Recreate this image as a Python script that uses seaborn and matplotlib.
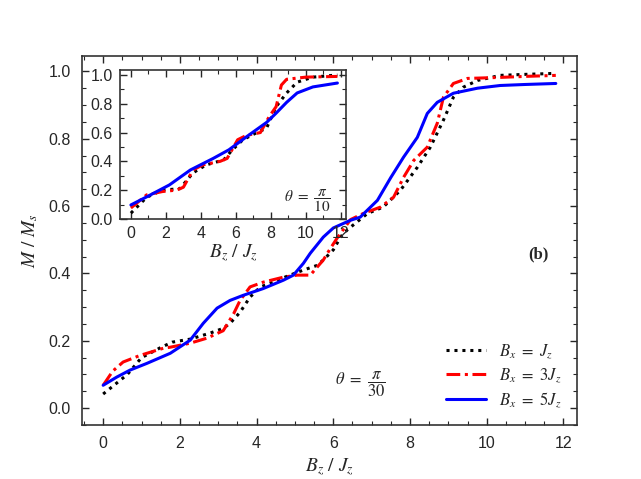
import matplotlib
matplotlib.use("Agg")
import matplotlib.pyplot as plt
import numpy as np
import pandas as pd
import seaborn as sns

# main panel, theta = pi/30
bz_j1 = [0.0, 0.63, 1.0, 1.5, 1.8, 2.27, 2.79, 3.13, 3.31, 3.57, 3.83, 4.1, 4.43, 4.8, 5.22, 5.58,
         5.74, 6.0, 6.2, 6.37, 6.89, 7.3, 7.75, 8.19, 8.53, 8.87, 9.13, 9.39, 9.76, 10.35, 11.0, 11.8]
m_j1 = [0.042, 0.10, 0.15, 0.18, 0.196, 0.205, 0.223, 0.237, 0.252, 0.285, 0.33, 0.36, 0.374,
        0.392, 0.41, 0.424, 0.44, 0.47, 0.51, 0.53, 0.578, 0.597, 0.647, 0.715, 0.775, 0.855,
        0.923, 0.953, 0.973, 0.988, 0.991, 0.994]

bz_j3 = [0.0, 0.25, 0.52, 0.97, 1.57, 1.75, 2.27, 2.71, 3.13, 3.4, 3.57, 3.83, 4.17, 4.7, 5.06,
         5.4, 5.74, 5.9, 6.1, 6.45, 6.78, 7.23, 7.57, 7.83, 8.1, 8.45, 8.71, 8.87, 9.13, 9.5,
         10.35, 11.0, 11.8]
m_j3 = [0.068, 0.11, 0.137, 0.157, 0.178, 0.181, 0.193, 0.208, 0.23, 0.28, 0.32, 0.36, 0.374,
        0.389, 0.395, 0.395, 0.44, 0.47, 0.505, 0.56, 0.578, 0.597, 0.626, 0.685, 0.736, 0.775,
        0.846, 0.923, 0.964, 0.979, 0.982, 0.985, 0.988]

bz_j5 = [0.0, 0.35, 0.7, 1.14, 1.75, 2.27, 2.61, 2.97, 3.31, 3.65, 4.17, 4.7, 4.96, 5.22, 5.4,
         5.74, 6.0, 6.45, 6.7, 7.15, 7.5, 7.83, 8.19, 8.45, 8.71, 9.13, 9.76, 10.35, 11.0, 11.8]
m_j5 = [0.068, 0.092, 0.113, 0.133, 0.163, 0.202, 0.252, 0.297, 0.32, 0.335, 0.355, 0.38, 0.395,
        0.43, 0.46, 0.508, 0.535, 0.558, 0.567, 0.617, 0.685, 0.745, 0.804, 0.875, 0.908,
        0.935, 0.95, 0.958, 0.961, 0.964]

# inset, theta = pi/10
in_bz_j1 = [0.0, 0.9, 1.8, 2.8, 3.55, 4.3, 5.3, 5.8, 6.4, 7.2, 7.75, 8.3, 8.9, 9.5, 10.4, 11.8]
in_m_j1 = [0.04, 0.15, 0.2, 0.21, 0.32, 0.375, 0.41, 0.48, 0.55, 0.6, 0.63, 0.78, 0.875, 0.95,
           0.985, 1.0]
in_bz_j3 = [0.0, 0.9, 1.8, 2.6, 3.0, 3.55, 4.1, 5.1, 5.5, 6.1, 6.6, 7.4, 7.9, 8.3, 8.6, 8.9, 10.0, 11.8]
in_m_j3 = [0.076, 0.167, 0.19, 0.2, 0.22, 0.34, 0.375, 0.4, 0.42, 0.55, 0.58, 0.6, 0.71, 0.78,
           0.93, 0.97, 0.985, 0.99]
in_bz_j5 = [0.0, 0.9, 2.2, 3.4, 4.7, 5.6, 6.6, 7.75, 8.3, 8.9, 9.5, 10.4, 11.8]
in_m_j5 = [0.097, 0.153, 0.236, 0.34, 0.42, 0.48, 0.57, 0.67, 0.735, 0.81, 0.875, 0.917, 0.944]

labels = [r"$B_x\ =\ J_z$", r"$B_x\ =\ 3J_z$", r"$B_x\ =\ 5J_z$"]
colors = ["black", "red", "blue"]
styles = [(0, (1, 1.6)), (0, (4.5, 1.5, 1, 1.5)), "-"]

sns.set_style("ticks")
plt.rcParams["font.family"] = ["Liberation Sans", "DejaVu Sans"]
plt.rcParams["mathtext.fontset"] = "stix"


def style_axes(ax, minor_x, minor_y, pad):
    ax.xaxis.set_minor_locator(matplotlib.ticker.MultipleLocator(minor_x))
    ax.yaxis.set_minor_locator(matplotlib.ticker.MultipleLocator(minor_y))
    ax.tick_params(which="both", direction="in", top=True, right=True, labelsize=11.5, pad=pad)
    ax.tick_params(which="major", length=5, width=1)
    ax.tick_params(which="minor", length=3, width=0.8)
    for s in ax.spines.values():
        s.set_linewidth(1.2)
        s.set_color("#333333")


def draw(ax, series, legend):
    for (x, y), lab, c, ls in zip(series, labels, colors, styles):
        df = pd.DataFrame({"bz": x, "m": y})
        sns.lineplot(data=df, x="bz", y="m", ax=ax, color=c, linestyle=ls, linewidth=2.2,
                     label=lab if legend else None, legend=False)


fig = plt.figure(figsize=(6.41, 4.79), dpi=100)
ax = fig.add_axes([0.128, 0.1127, 0.772, 0.770])
draw(ax, [(bz_j1, m_j1), (bz_j3, m_j3), (bz_j5, m_j5)], True)
ax.set_xlim(-0.55, 12.35)
ax.set_ylim(-0.05, 1.045)
ax.set_xticks(np.arange(0, 13, 2))
ax.set_yticks(np.arange(0, 1.01, 0.2))
ax.yaxis.set_major_formatter(matplotlib.ticker.FormatStrFormatter("%.1f"))
style_axes(ax, 0.5, 0.05, 8)
ax.set_xlabel(r"$B_z\ /\ J_z$", fontsize=14, labelpad=4)
ax.set_ylabel(r"$M\ /\ M_s$", fontsize=14, labelpad=6)
ax.legend(loc="lower right", frameon=False, fontsize=12, handlelength=2.4,
          labelspacing=0.35, bbox_to_anchor=(1.0, 0.0))
ax.text(6.7, 0.07, r"$\theta\ =\ \dfrac{\pi}{30}$", fontsize=12, ha="center", va="center")
ax.text(11.6, 0.445, "(b)", fontsize=12, fontweight="bold", family="Liberation Serif",
        ha="right")

ins = fig.add_axes([0.187, 0.543, 0.353, 0.311])
draw(ins, [(in_bz_j1, in_m_j1), (in_bz_j3, in_m_j3), (in_bz_j5, in_m_j5)], False)
ins.set_xlim(-0.63, 12.3)
ins.set_ylim(0.0, 1.035)
ins.set_xticks(np.arange(0, 13, 2))
ins.set_yticks(np.arange(0, 1.01, 0.2))
ins.yaxis.set_major_formatter(matplotlib.ticker.FormatStrFormatter("%.1f"))
style_axes(ins, 1.0, 0.1, 5)
ins.set_xlabel(r"$B_z\ /\ J_z$", fontsize=14, labelpad=1)
ins.set_ylabel("")
ins.text(10.1, 0.13, r"$\theta\ =\ \dfrac{\pi}{10}$", fontsize=11, ha="center", va="center")

fig.savefig("out.png", dpi=100)
